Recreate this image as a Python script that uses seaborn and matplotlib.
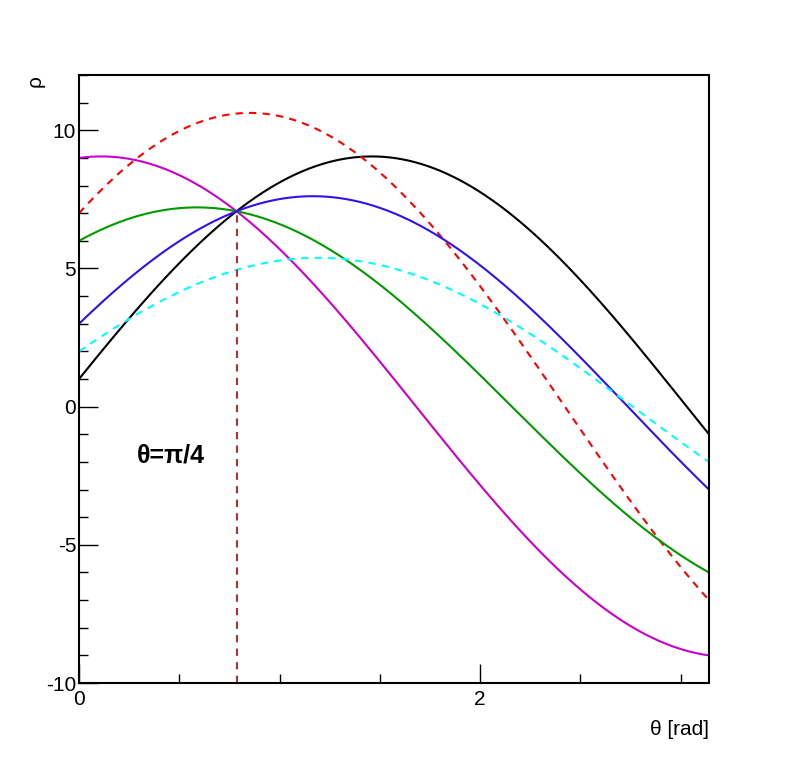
import numpy as np
import pandas as pd
import matplotlib
matplotlib.use("Agg")
import matplotlib.pyplot as plt
import seaborn as sns
from matplotlib.ticker import MultipleLocator

# Hough-transform curves rho = x*cos(theta) + y*sin(theta) for each point
point_x = [1, 7, 9, 6, 3, 2]
point_y = [9, 8, 1, 4, 7, 5]
colors = ["black", "#ff0000", "#cc00cc", "#009900", "#3311ee", "#00ffff"]
styles = ["-", "--", "-", "-", "-", "--"]

theta_max = np.pi
theta_mark = np.pi / 4
rho_mark = 10 / np.sqrt(2)

sns.set_style("ticks", {"text.color": "black", "axes.labelcolor": "black",
                        "xtick.color": "black", "ytick.color": "black",
                        "axes.edgecolor": "black"})
plt.rcParams['font.family'] = ['Liberation Sans', 'DejaVu Sans']
plt.rcParams['axes.unicode_minus'] = False

fig = plt.figure(figsize=(7.87, 7.58), dpi=100)
ax = fig.add_axes([0.1004, 0.0989, 0.8005, 0.8021])

theta = np.linspace(0, theta_max, 400)
rows = []
for i, (px, py) in enumerate(zip(point_x, point_y)):
    rows.append(pd.DataFrame({"theta": theta,
                              "rho": px * np.cos(theta) + py * np.sin(theta),
                              "curve": i}))
df = pd.concat(rows)

for i in range(len(point_x)):
    sns.lineplot(data=df[df.curve == i], x="theta", y="rho", ax=ax,
                 color=colors[i], linewidth=1.5, legend=False)
    if styles[i] == "--":
        ax.lines[-1].set_dashes((3.5, 3))

ax.plot([theta_mark, theta_mark], [-10, rho_mark], color="#aa3333",
        linewidth=1.5, dashes=(3.5, 3))

ax.text(0.29, -1.75, "θ=π/4", fontsize=18, fontweight="bold", color="black",
        ha="left", va="center")

ax.set_xlim(0, theta_max)
ax.set_ylim(-10, 12)
ax.xaxis.set_major_locator(MultipleLocator(2))
ax.xaxis.set_minor_locator(MultipleLocator(0.5))
ax.yaxis.set_major_locator(MultipleLocator(5))
ax.yaxis.set_minor_locator(MultipleLocator(1))
ax.tick_params(axis="both", which="major", direction="in", length=13.5,
               width=1, labelsize=15, colors="black")
ax.tick_params(axis="both", which="minor", direction="in", length=6.5,
               width=1, colors="black")
ax.tick_params(axis="x", which="major", pad=5)
ax.tick_params(axis="y", which="major", pad=2)
for s in ax.spines.values():
    s.set_linewidth(1.5)
    s.set_color("black")
    s.set_visible(True)

ax.set_xlabel("θ [rad]", fontsize=15, ha="right", x=1.0, labelpad=8,
              color="black")
ax.set_ylabel("ρ", fontsize=15, ha="right", va="center", y=1.0,
              color="black")
ax.yaxis.set_label_coords(-0.07, 1.0)

fig.savefig("out.png", dpi=100)
